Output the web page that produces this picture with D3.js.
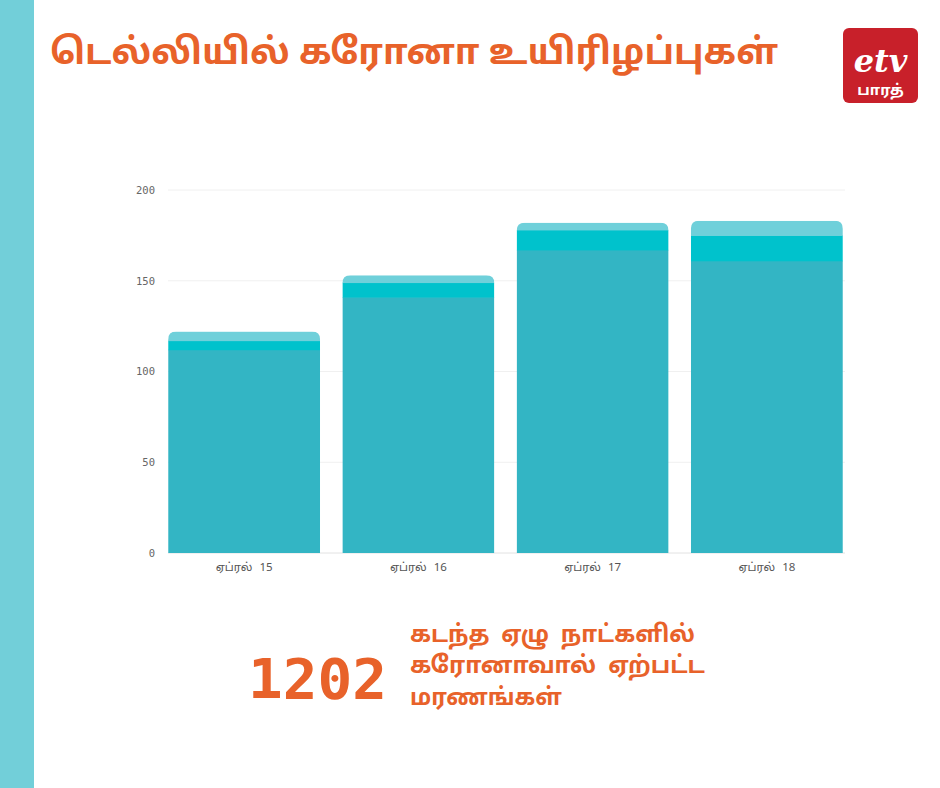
<!DOCTYPE html>
<html><head><meta charset="utf-8">
<script src="https://cdn.jsdelivr.net/npm/d3@7"></script>
<style>html,body{margin:0;padding:0;background:#fff;}</style>
</head><body>
<script>
const categories = ["ஏப்ரல் 15","ஏப்ரல் 16","ஏப்ரல் 17","ஏப்ரல் 18"];
const seriesBase = [112,141,167,161];
const seriesMid = [5,8,11,14];
const seriesTop = [5,4,4,8];
const yTicks = [0,50,100,150,200];
const title = "டெல்லியில் கரோனா உயிரிழப்புகள்";
const bigNumber = "1202";
const noteLines = ["கடந்த ஏழு நாட்களில்","கரோனாவால் ஏற்பட்ட","மரணங்கள்"];

const W=940,H=788;
const svg=d3.select("body").append("svg").attr("width",W).attr("height",H);
svg.append("rect").attr("width",W).attr("height",H).attr("fill","#fff");
svg.append("rect").attr("x",0).attr("y",0).attr("width",34).attr("height",H).attr("fill","#72cfd9");

const orange="#e8622a";
const tamil="'Noto Sans Tamil','Lohit Tamil','Noto Sans','DejaVu Sans',sans-serif";
svg.append("text").attr("x",50).attr("y",64).attr("fill",orange)
  .attr("font-family",tamil).attr("font-weight","bold").attr("font-size",36)
  .attr("textLength",728).attr("lengthAdjust","spacingAndGlyphs").text(title);

// logo
const lg=svg.append("g").attr("transform","translate(843,28)");
lg.append("rect").attr("width",75).attr("height",75).attr("rx",6).attr("fill","#c8202a");
lg.append("text").attr("x",37.5).attr("y",44).attr("text-anchor","middle").attr("fill","#fff")
  .attr("font-family","'DejaVu Serif',serif").attr("font-style","italic").attr("font-weight","bold").attr("font-size",32).text("etv");
lg.append("text").attr("x",37.5).attr("y",67).attr("text-anchor","middle").attr("fill","#fff")
  .attr("font-family",tamil).attr("font-weight","bold").attr("font-size",15).text("பாரத்");

// chart
const x=d3.scaleBand().domain(categories).range([157,854]).paddingInner(0.128).paddingOuter(0.064);
const y=d3.scaleLinear().domain([0,200]).range([553,190]);

const grid=svg.append("g");
grid.selectAll("line").data(yTicks).join("line")
  .attr("x1",168).attr("x2",845).attr("y1",d=>y(d)).attr("y2",d=>y(d))
  .attr("stroke",d=>d===0?"#e2e2e2":"#f0f0f0").attr("stroke-width",1);

const yAxis=d3.axisLeft(y).tickValues(yTicks).tickSize(0).tickPadding(0);
const ya=svg.append("g").attr("transform","translate(155,0)").call(yAxis);
ya.select(".domain").remove();
ya.selectAll("text").attr("font-family","'DejaVu Sans Mono',monospace").attr("font-size",10.5).attr("fill","#666");

const data=categories.map((c,i)=>({c,base:seriesBase[i],mid:seriesMid[i],top:seriesTop[i]}));
const stack=d3.stack().keys(["base","mid","top"])(data);
const colors={base:"#33b5c4",mid:"#00c2cc",top:"#6fd0da"};
const defs=svg.append("defs");
data.forEach((d,i)=>{
  const total=d.base+d.mid+d.top;
  const x0=x(d.c),w=x.bandwidth(),yt=y(total),yb=y(0),r=8;
  defs.append("clipPath").attr("id","cp"+i).append("path")
    .attr("d",`M${x0},${yb}V${yt+r}Q${x0},${yt} ${x0+r},${yt}H${x0+w-r}Q${x0+w},${yt} ${x0+w},${yt+r}V${yb}Z`);
});
const bars=svg.append("g");
stack.forEach(s=>{
  bars.append("g").selectAll("rect").data(s).join("rect")
    .attr("clip-path",(d,i)=>`url(#cp${i})`)
    .attr("x",d=>x(d.data.c)).attr("width",x.bandwidth())
    .attr("y",d=>y(d[1])).attr("height",d=>y(d[0])-y(d[1])+0.5)
    .attr("fill",colors[s.key]);
});

const xAxis=d3.axisBottom(x).tickSize(0).tickPadding(0);
const xa=svg.append("g").attr("transform","translate(0,571)").call(xAxis);
xa.select(".domain").remove();
xa.selectAll("text").attr("dy",0).attr("font-family",tamil).attr("font-size",11.5)
  .attr("word-spacing",4).attr("fill","#555");

// bottom note
svg.append("text").attr("x",248).attr("y",698).attr("fill",orange)
  .attr("font-family","'DejaVu Sans Mono',monospace").attr("font-weight","bold").attr("font-size",56)
  .attr("textLength",139).attr("lengthAdjust","spacingAndGlyphs").text(bigNumber);
const nb=[642,673,705], nw=[285,295,152];
noteLines.forEach((t,i)=>{
  svg.append("text").attr("x",410).attr("y",nb[i]).attr("fill",orange)
    .attr("font-family",tamil).attr("font-weight","bold").attr("font-size",24)
    .attr("word-spacing",6)
    .attr("textLength",nw[i]).attr("lengthAdjust","spacingAndGlyphs").text(t);
});
</script>
</body></html>
